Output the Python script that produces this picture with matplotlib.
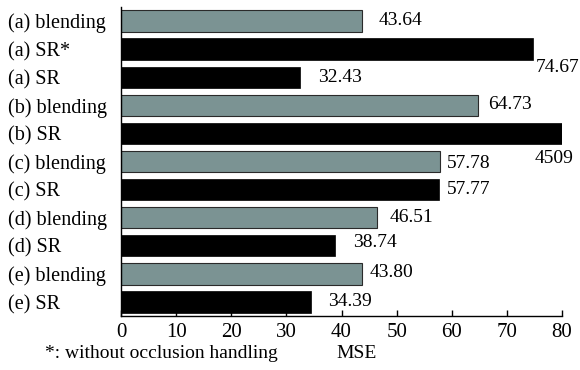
import matplotlib
matplotlib.use('Agg')
import matplotlib.pyplot as plt
import numpy as np

plt.rcParams['font.family'] = ['Liberation Serif', 'DejaVu Serif']

# ---------------- data ----------------
labels = ['(a) blending', '(a) SR*', '(a) SR', '(b) blending', '(b) SR',
          '(c) blending', '(c) SR', '(d) blending', '(d) SR',
          '(e) blending', '(e) SR']
mse = [43.64, 74.67, 32.43, 64.73, 4509, 57.78, 57.77, 46.51, 38.74, 43.80, 34.39]
value_text = ['43.64', '74.67', '32.43', '64.73', '4509', '57.78', '57.77',
              '46.51', '38.74', '43.80', '34.39']
is_blend = [True, False, False, True, False, True, False, True, False, True, False]

# label offsets in pixels (dx, dy) from bar end
offsets = [(17, 1), (3, -18), (18, 0), (10, 1), (-27, -25), (7, -2),
           (7, 0), (12, 0), (19, 3), (7, 1), (17, 0)]

xmax = 80
grey = '#7b9393'
fs = 14

fig = plt.figure(figsize=(5.8, 3.7), dpi=100)
ax = fig.add_axes([121/580, 1 - 316/370, (562-121)/580, (316-7)/370])

y = np.arange(len(mse))
for i in range(len(mse)):
    if is_blend[i]:
        ax.barh(y[i], mse[i], height=0.76, color=grey, edgecolor='#2a2a2a', linewidth=0.8)
    else:
        ax.barh(y[i], mse[i], height=0.76, color='black', edgecolor='black', linewidth=0.5)

for i in range(len(mse)):
    ax.annotate(value_text[i], xy=(min(mse[i], xmax), y[i]),
                xytext=offsets[i], textcoords='offset pixels',
                ha='left', va='center', fontsize=fs, annotation_clip=False)

ax.set_xlim(0, xmax)
ax.set_ylim(len(mse) - 0.5, -0.5)
ax.set_xticks(np.arange(0, 81, 10))
ax.tick_params(axis='x', direction='in', length=4, width=1, labelsize=15, pad=5)
ax.set_yticks(y)
ax.set_yticklabels(labels, fontsize=14.5, ha='left')
ax.tick_params(axis='y', length=0, pad=113 * 72 / 100)

for s in ['top', 'right']:
    ax.spines[s].set_visible(False)
ax.spines['left'].set_linewidth(1)
ax.spines['bottom'].set_linewidth(1)

fig.text(45/580, 1 - 353/370, '*: without occlusion handling', fontsize=fs, va='center', ha='left')
fig.text(357/580, 1 - 353/370, 'MSE', fontsize=fs, va='center', ha='center')

fig.savefig('out.png', dpi=100)
